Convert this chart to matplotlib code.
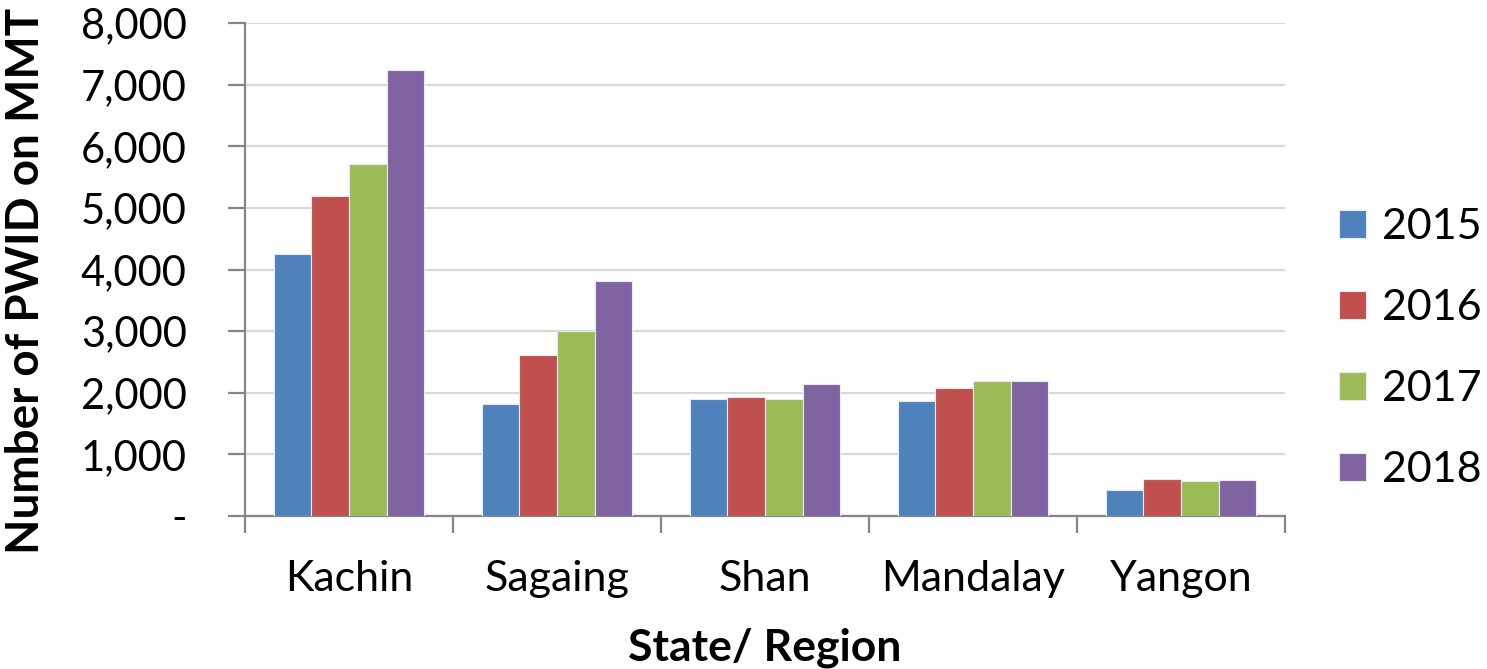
import numpy as np
import matplotlib.pyplot as plt
from matplotlib.ticker import FuncFormatter

plt.rcParams['font.family'] = ['Lato', 'DejaVu Sans']

regions = ["Kachin", "Sagaing", "Shan", "Mandalay", "Yangon"]
years = ["2015", "2016", "2017", "2018"]
pwid_2015 = [4250, 1810, 1900, 1860, 420]
pwid_2016 = [5200, 2620, 1930, 2070, 600]
pwid_2017 = [5720, 3010, 1900, 2190, 560]
pwid_2018 = [7240, 3820, 2135, 2190, 585]

series = [pwid_2015, pwid_2016, pwid_2017, pwid_2018]
colors = ["#4F81BD", "#C0504D", "#9BBB59", "#8064A2"]

fig = plt.figure(figsize=(14.87, 6.69), dpi=100)
ax = fig.add_axes([245 / 1487, 1 - 516 / 669, 1040 / 1487, 493 / 669])

x = np.arange(len(regions))
w = 0.181
for i, (vals, c, yr) in enumerate(zip(series, colors, years)):
    ax.bar(x + (i - 1.5) * w, vals, width=w, color=c, edgecolor="#E8E8F0",
           linewidth=0.8, label=yr, zorder=3)

ax.set_xlim(-0.5, len(regions) - 0.5)
ax.set_ylim(0, 8000)
ax.set_yticks(np.arange(0, 8001, 1000))
ax.yaxis.set_major_formatter(FuncFormatter(lambda v, p: "-" if v == 0 else f"{v:,.0f}"))
ax.grid(axis="y", color="#D9D9D9", lw=1.6, zorder=0)

# category labels centred, tick marks between groups
ax.set_xticks(x)
ax.set_xticklabels(regions)
ax.tick_params(axis="x", length=0, pad=32, labelsize=31)
ax.set_xticks(np.arange(-0.5, len(regions)), minor=True)
ax.tick_params(axis="x", which="minor", length=12, width=1.6, color="#868686")
ax.tick_params(axis="y", length=12, width=1.6, color="#868686", labelsize=30, pad=30)

for s in ["top", "right"]:
    ax.spines[s].set_visible(False)
for s in ["left", "bottom"]:
    ax.spines[s].set_color("#868686")
    ax.spines[s].set_linewidth(1.6)

ax.set_ylabel("Number of PWID on MMT", fontsize=33, fontweight="bold")
ax.yaxis.set_label_coords(-0.19, 0.477)
ax.set_xlabel("State/ Region", fontsize=32, fontweight="bold", labelpad=21)

leg = ax.legend(loc="center left", bbox_to_anchor=(1.015, 0.34), frameon=False,
                fontsize=31, handlelength=0.62, handleheight=0.62,
                labelspacing=1.0, handletextpad=0.38)

fig.savefig("out.png", dpi=100)
